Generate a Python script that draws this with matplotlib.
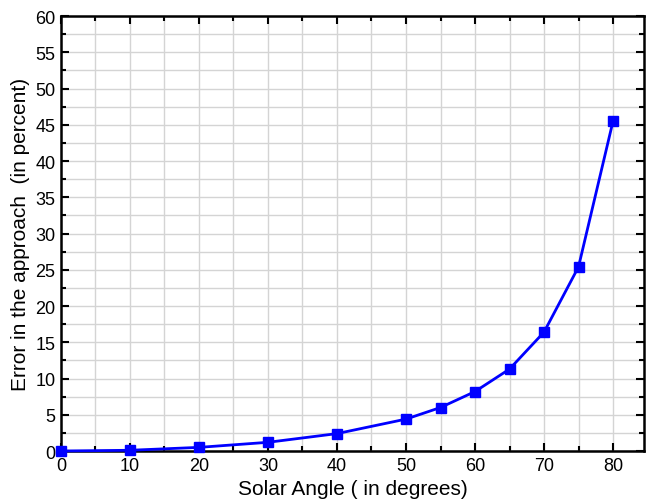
import numpy as np
import matplotlib.pyplot as plt
from matplotlib.ticker import MultipleLocator

angle = np.array([0, 10, 20, 30, 40, 50, 55, 60, 65, 70, 75, 80])
error = np.array([0.0, 0.1, 0.5, 1.2, 2.4, 4.4, 6.0, 8.2, 11.3, 16.4, 25.4, 45.5])

plt.rcParams['font.family'] = ['Liberation Sans', 'DejaVu Sans']

fig = plt.figure(figsize=(6.46, 5.02), dpi=100)
ax = fig.add_axes([0.0944, 0.0996, 0.9026, 0.8664])

ax.plot(angle, error, color='#0000ff', lw=2, marker='s', ms=6.5,
        mec='#0000ff', mfc='#0000ff', clip_on=False, zorder=3)

ax.set_xlim(0, 84.5)
ax.set_ylim(0, 60)
ax.xaxis.set_major_locator(MultipleLocator(10))
ax.xaxis.set_minor_locator(MultipleLocator(5))
ax.yaxis.set_major_locator(MultipleLocator(5))
ax.yaxis.set_minor_locator(MultipleLocator(2.5))

ax.grid(True, which='both', color='#d4d4d4', lw=1)
ax.set_axisbelow(True)

ax.tick_params(which='both', direction='in', top=True, right=True, width=1.5)
ax.tick_params(which='major', length=6, labelsize=13, pad=4)
ax.tick_params(which='minor', length=3.5)
for s in ax.spines.values():
    s.set_linewidth(1.8)

ax.set_xlabel('Solar Angle ( in degrees)', fontsize=15, labelpad=4)
ax.set_ylabel('Error in the approach  (in percent)', fontsize=15, labelpad=4)

fig.savefig('out.png', dpi=100)
